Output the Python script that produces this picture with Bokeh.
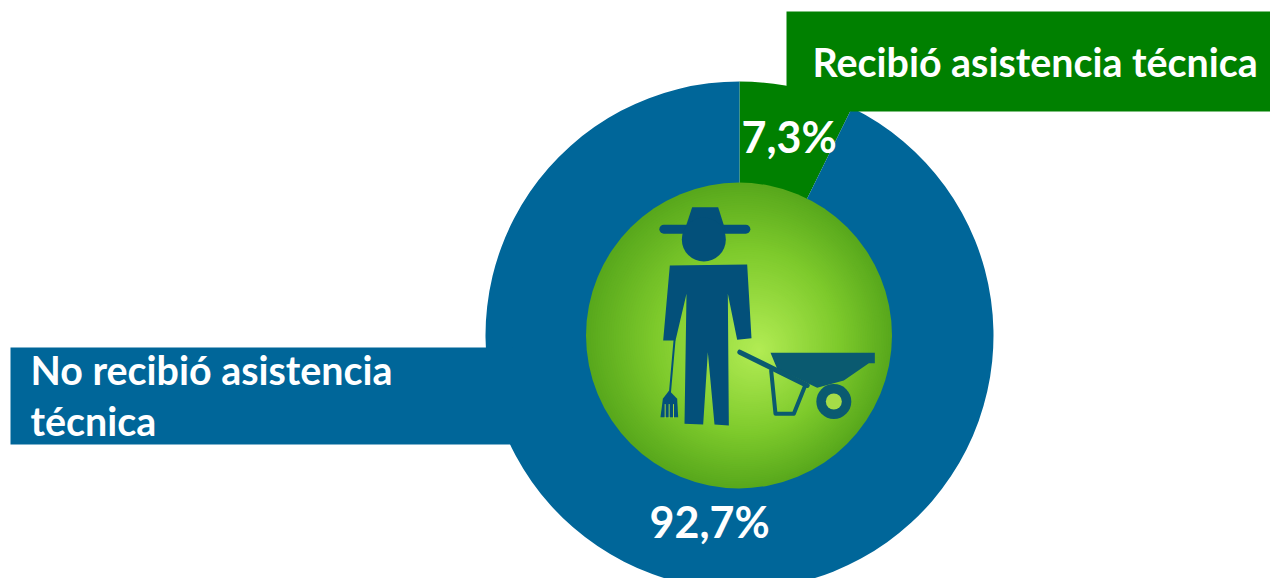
from math import pi
from bokeh.embed import file_html
from bokeh.resources import INLINE
from bokeh.plotting import figure
from bokeh.models import Range1d
from bokeh.core.properties import value

categories = ["Recibió asistencia técnica", "No recibió asistencia técnica"]
shares = [7.3, 92.7]
series_colors = ["#008000", "#006699"]
pct_labels = ["7,3%", "92,7%"]

W, H = 1270, 578
def Y(y): return H - y
def zx(x): return 580 + x / 3
def zy(y): return Y(180 + y / 3)

p = figure(width=W, height=H, x_range=Range1d(0, W), y_range=Range1d(0, H),
           output_backend="svg", toolbar_location=None, min_border=0)
p.axis.visible = False
p.grid.visible = False
p.outline_line_color = None
p.background_fill_color = "white"

# donut
cx, cy, R, r = 739, 335, 254, 152
a = pi / 2
for s, c in zip(shares, series_colors):
    b = a - s / 100 * 2 * pi
    p.annular_wedge(x=[cx], y=[Y(cy)], inner_radius=r - 2, outer_radius=R, start_angle=a, end_angle=b,
                    direction="clock", fill_color=c, line_color=None)
    a = b

# label boxes
p.quad(left=[786], right=[W], top=[Y(11)], bottom=[Y(111)], fill_color=series_colors[0], line_color=None)
p.quad(left=[10], right=[512], top=[Y(347)], bottom=[Y(444)], fill_color=series_colors[1], line_color=None)

# radial-looking disc
def lerp(c1, c2, t):
    return "#%02x%02x%02x" % tuple(round(u + (v - u) * t) for u, v in zip(c1, c2))
edge = (88, 168, 28)
mid = (126, 202, 44)
core = (178, 236, 84)
N = 76
for i in range(N):
    t = i / (N - 1)
    col = lerp(edge, mid, t / 0.4) if t < 0.4 else lerp(mid, core, (t - 0.4) / 0.6)
    p.circle(x=[738.5 + 20 * t], y=[Y(335 + 15 * t)], radius=152 * (1 - t) + 1, fill_color=col, line_color=None)

# farmer
dark = "#03507a"
teal = "#0a5a70"
def poly(pts, color):
    p.patch([zx(a) for a, b in pts], [zy(b) for a, b in pts], fill_color=color, line_color=None)
def line(pts, color, w):
    p.line([zx(a) for a, b in pts], [zy(b) for a, b in pts], line_color=color, line_width=w,
           line_cap="round", line_join="round")

line([(250,146),(496,146)], dark, 9)
poly([(335,80),(413,80),(435,150),(312,150)], dark)
p.circle(x=[zx(370)], y=[zy(177)], radius=22, fill_color=dark, line_color=None)
poly([(268,255),(500,252),(513,473),(470,478),(442,340),(445,735),(402,732),(382,515),(368,732),(312,730),
      (318,340),(285,480),(248,480)], dark)
line([(282,480),(268,640)], dark, 2)
poly([(266,630),(290,655),(293,710),(240,710),(247,655)], dark)
for gx in [254, 266, 279]:
    line([(gx,672),(gx,712)], "#9bd340", 1)
poly([(570,517),(883,517),(883,548),(865,548),(790,600),(710,622),(590,565)], teal)
line([(478,515),(680,615)], teal, 5)
line([(572,570),(585,700),(640,700),(672,620)], teal, 4)
p.circle(x=[zx(760)], y=[zy(663)], radius=17.5, fill_color=teal, line_color=None)
p.circle(x=[zx(760)], y=[zy(663)], radius=8, fill_color="#a5dc48", line_color=None)

# texts
font = value("Lato")
p.text(x=[812], y=[Y(61)], text=[categories[0]], text_font=font, text_font_style="bold", text_font_size="39.4px",
       text_color="white", text_baseline="middle")
first, second = "No recibió asistencia", "técnica"
p.text(x=[30, 30], y=[Y(369), Y(420)], text=[first, second], text_font=font, text_font_style="bold",
       text_font_size="39.4px", text_color="white", text_baseline="middle")
p.text(x=[741, 649], y=[Y(136), Y(521)], text=pct_labels, text_font=font, text_font_style="bold",
       text_font_size="43px", text_color="white", text_baseline="middle")

open("out.html", "w").write(file_html(p, INLINE))
